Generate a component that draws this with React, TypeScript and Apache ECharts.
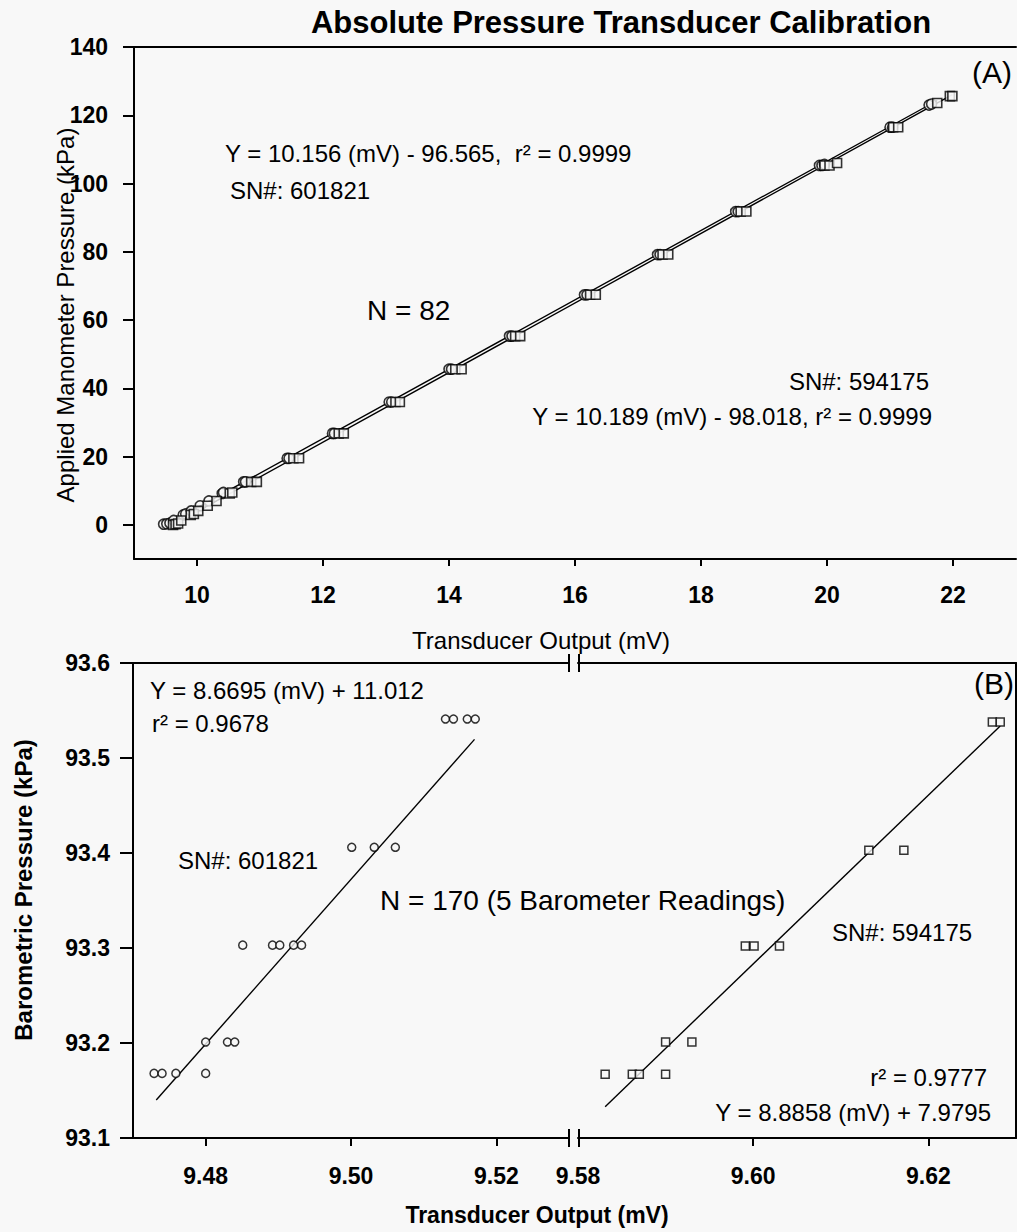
import React, { useEffect, useRef } from "react";
import * as echarts from "echarts";

const FONT = '"Liberation Sans", Arial, Helvetica, sans-serif';
const INK = "#000000";
const PAPER = "#f8f8f8";

// ---- Panel A: applied manometer pressure vs. transducer output ----
const aCircleMv = [9.47, 9.52, 9.57, 9.63, 9.78, 9.82, 9.91, 10.05, 10.19, 10.4, 10.42, 10.74, 10.77, 11.43, 11.46, 12.15, 12.18, 13.05, 13.09, 14.0, 14.04, 14.96, 15.0, 16.15, 16.19, 17.31, 17.35, 18.55, 18.59, 19.88, 19.92, 19.96, 21.0, 21.04, 21.62, 21.66];
const aCircleKpa = [0.2, 0.3, 0.5, 1.3, 2.9, 3.2, 4.1, 5.6, 7.0, 9.2, 9.5, 12.6, 12.6, 19.5, 19.5, 26.8, 26.8, 36.0, 36.0, 45.6, 45.6, 55.3, 55.3, 67.4, 67.4, 79.2, 79.2, 91.8, 91.8, 105.3, 105.3, 105.6, 116.5, 116.5, 123.0, 123.3];
const aSquareMv = [9.62, 9.66, 9.7, 9.75, 9.9, 9.95, 10.02, 10.17, 10.31, 10.52, 10.56, 10.86, 10.95, 11.53, 11.62, 12.25, 12.33, 13.15, 13.22, 14.1, 14.2, 15.05, 15.13, 16.24, 16.33, 17.39, 17.48, 18.63, 18.72, 19.96, 20.04, 20.16, 21.05, 21.13, 21.75, 21.95, 21.99];
const aSquareKpa = [0.0, 0.2, 0.4, 1.3, 2.9, 3.2, 4.1, 5.6, 7.0, 9.2, 9.5, 12.6, 12.6, 19.5, 19.5, 26.8, 26.8, 36.0, 36.0, 45.6, 45.6, 55.3, 55.3, 67.4, 67.4, 79.2, 79.2, 91.8, 91.8, 105.3, 105.3, 106.0, 116.5, 116.5, 123.6, 125.6, 125.6];
const aXTicks = [10, 12, 14, 16, 18, 20, 22];
const aYTicks = [0, 20, 40, 60, 80, 100, 120, 140];

// ---- Panel B: barometric pressure vs. transducer output (broken x axis) ----
const bCircleMv = [9.513, 9.5141, 9.516, 9.5171, 9.5001, 9.5032, 9.5061, 9.4851, 9.4892, 9.4902, 9.4921, 9.4932, 9.48, 9.483, 9.484, 9.4729, 9.474, 9.4759, 9.48];
const bCircleKpa = [93.541, 93.541, 93.541, 93.541, 93.406, 93.406, 93.406, 93.303, 93.303, 93.303, 93.303, 93.303, 93.201, 93.201, 93.201, 93.168, 93.168, 93.168, 93.168];
const bSquareMv = [9.6273, 9.6282, 9.6132, 9.6172, 9.5991, 9.6001, 9.603, 9.59, 9.593, 9.5831, 9.5862, 9.587, 9.59];
const bSquareKpa = [93.538, 93.538, 93.403, 93.403, 93.302, 93.302, 93.302, 93.201, 93.201, 93.167, 93.167, 93.167, 93.167];
const bLeftXTicks = [9.48, 9.5, 9.52];
const bRightXTicks = [9.58, 9.6, 9.62];
const bYTicks = [93.1, 93.2, 93.3, 93.4, 93.5, 93.6];

// Linear fits: [slope, intercept, r², first mV, last mV]
const fitA601821 = [10.156, -96.565, 0.9999, 9.47, 21.75];
const fitA594175 = [10.189, -98.018, 0.9999, 9.62, 21.99];
const fitB601821 = [8.6695, 11.012, 0.9678, 9.4732, 9.517];
const fitB594175 = [8.8858, 7.9795, 0.9777, 9.5831, 9.6282];

const pairs = (xs: number[], ys: number[]) => xs.map((x, i) => [x, ys[i]]);
const fitLine = (f: number[]) => [
  [f[3], f[0] * f[3] + f[1]],
  [f[4], f[0] * f[4] + f[1]],
];
const fitEq = (f: number[]) =>
  `Y = ${f[0]} (mV) ${f[1] < 0 ? "-" : "+"} ${Math.abs(f[1])}`;

const txt = (
  text: string,
  x: number,
  y: number,
  size: number,
  opts: { weight?: string; align?: string; rotate?: boolean } = {}
) => ({
  type: "text",
  x,
  y,
  rotation: opts.rotate ? Math.PI / 2 : 0,
  silent: true,
  style: {
    text,
    fill: INK,
    font: `${opts.weight || "normal"} ${size}px ${FONT}`,
    textAlign: opts.align || "left",
    textVerticalAlign: "middle",
    align: opts.align || "left",
    verticalAlign: "middle",
  },
});

const breakMark = (x: number, y: number) => ({
  type: "line",
  silent: true,
  shape: { x1: x, y1: y - 9, x2: x, y2: y + 9 },
  style: { stroke: INK, lineWidth: 2 },
});

const lineOnly = { show: true, onZero: false, lineStyle: { color: INK, width: 2 } };

export default function App() {
  const ref = useRef<HTMLDivElement>(null);

  useEffect(() => {
    if (!ref.current) return;
    const chart = echarts.init(ref.current, null, { renderer: "svg" });

    const tickLabel = (size: number, weight: string, margin: number, fmt: (v: number) => string, values: number[]) => ({
      show: true,
      customValues: values,
      color: INK,
      fontFamily: FONT,
      fontSize: size,
      fontWeight: weight,
      margin,
      formatter: (v: number) => fmt(v),
    });
    const ticks = (len: number, values: number[]) => ({
      show: true,
      inside: false,
      length: len,
      customValues: values,
      lineStyle: { color: INK, width: 2 },
    });
    const hidden = { show: false };

    const scatterStyle = (symbol: string, size: number, width: number) => ({
      type: "scatter",
      symbol,
      symbolSize: size,
      itemStyle: { color: PAPER, borderColor: INK, borderWidth: width },
      z: symbol === "rect" ? 4 : 3,
    });
    const fitStyle = {
      type: "line",
      showSymbol: false,
      symbol: "none",
      lineStyle: { color: INK, width: 1.4 },
      z: 2,
    };

    chart.setOption({
      animation: false,
      backgroundColor: PAPER,
      grid: [
        { left: 134, top: 47, width: 882, height: 512 },
        { left: 133, top: 663, width: 436, height: 475 },
        { left: 578, top: 663, width: 438, height: 475 },
      ],
      xAxis: [
        {
          type: "value", gridIndex: 0, min: 9, max: 23, position: "bottom",
          axisLine: lineOnly, splitLine: hidden,
          axisTick: ticks(7, aXTicks),
          axisLabel: tickLabel(23, "bold", 24, (v) => String(v), aXTicks),
        },
        {
          type: "value", gridIndex: 0, min: 9, max: 23, position: "top",
          axisLine: lineOnly, splitLine: hidden, axisTick: hidden, axisLabel: hidden,
        },
        {
          type: "value", gridIndex: 1, min: 9.47, max: 9.53, position: "bottom",
          axisLine: lineOnly, splitLine: hidden,
          axisTick: ticks(8, bLeftXTicks),
          axisLabel: tickLabel(23, "bold", 26, (v) => v.toFixed(2), bLeftXTicks),
        },
        {
          type: "value", gridIndex: 1, min: 9.47, max: 9.53, position: "top",
          axisLine: lineOnly, splitLine: hidden, axisTick: hidden, axisLabel: hidden,
        },
        {
          type: "value", gridIndex: 2, min: 9.58, max: 9.63, position: "bottom",
          axisLine: lineOnly, splitLine: hidden,
          axisTick: ticks(8, bRightXTicks.slice(1)),
          axisLabel: tickLabel(23, "bold", 26, (v) => v.toFixed(2), bRightXTicks),
        },
        {
          type: "value", gridIndex: 2, min: 9.58, max: 9.63, position: "top",
          axisLine: lineOnly, splitLine: hidden, axisTick: hidden, axisLabel: hidden,
        },
      ],
      yAxis: [
        {
          type: "value", gridIndex: 0, min: -10, max: 140, position: "left",
          axisLine: lineOnly, splitLine: hidden,
          axisTick: ticks(11, aYTicks),
          axisLabel: tickLabel(23, "bold", 26, (v) => String(v), aYTicks),
        },
        {
          type: "value", gridIndex: 1, min: 93.1, max: 93.6, position: "left",
          axisLine: lineOnly, splitLine: hidden,
          axisTick: ticks(13, bYTicks),
          axisLabel: tickLabel(23, "bold", 23, (v) => v.toFixed(1), bYTicks),
        },
        {
          type: "value", gridIndex: 2, min: 93.1, max: 93.6, position: "right",
          axisLine: lineOnly, splitLine: hidden, axisTick: hidden, axisLabel: hidden,
        },
      ],
      series: [
        { ...fitStyle, name: "fit 601821 (A)", xAxisIndex: 0, yAxisIndex: 0, data: fitLine(fitA601821) },
        { ...fitStyle, name: "fit 594175 (A)", xAxisIndex: 0, yAxisIndex: 0, data: fitLine(fitA594175) },
        { ...scatterStyle("circle", 10, 1.6), name: "SN 601821 (A)", xAxisIndex: 0, yAxisIndex: 0, data: pairs(aCircleMv, aCircleKpa) },
        { ...scatterStyle("rect", 9, 1.6), name: "SN 594175 (A)", xAxisIndex: 0, yAxisIndex: 0, data: pairs(aSquareMv, aSquareKpa) },
        { ...fitStyle, name: "fit 601821 (B)", xAxisIndex: 2, yAxisIndex: 1, data: fitLine(fitB601821) },
        { ...scatterStyle("circle", 8, 1.5), name: "SN 601821 (B)", xAxisIndex: 2, yAxisIndex: 1, data: pairs(bCircleMv, bCircleKpa) },
        { ...fitStyle, name: "fit 594175 (B)", xAxisIndex: 4, yAxisIndex: 2, data: fitLine(fitB594175) },
        { ...scatterStyle("rect", 8, 1.5), name: "SN 594175 (B)", xAxisIndex: 4, yAxisIndex: 2, data: pairs(bSquareMv, bSquareKpa) },
      ],
      graphic: [
        txt("Absolute Pressure Transducer Calibration", 621, 22, 31, { weight: "bold", align: "center" }),
        txt("Applied Manometer Pressure (kPa)", 65, 315, 24, { align: "center", rotate: true }),
        txt("Transducer Output (mV)", 541, 640, 24, { align: "center" }),
        txt(`${fitEq(fitA601821)},  r² = ${fitA601821[2]}`, 225, 153, 24),
        txt("SN#: 601821", 230, 190, 24),
        txt("N = 82", 367, 310, 28),
        txt("SN#: 594175", 929, 381, 24, { align: "right" }),
        txt(`${fitEq(fitA594175)}, r² = ${fitA594175[2]}`, 932, 416, 24, { align: "right" }),
        txt("(A)", 1012, 72, 30, { align: "right" }),

        txt("Barometric Pressure (kPa)", 23, 890, 24, { weight: "bold", align: "center", rotate: true }),
        txt("Transducer Output (mV)", 537, 1215, 23, { weight: "bold", align: "center" }),
        txt(fitEq(fitB601821), 150, 690, 24),
        txt(`r² = ${fitB601821[2]}`, 152, 723, 24),
        txt("SN#: 601821", 178, 860, 24),
        txt("N = 170 (5 Barometer Readings)", 380, 900, 28),
        txt("SN#: 594175", 832, 932, 24),
        txt(`r² = ${fitB594175[2]}`, 987, 1077, 24, { align: "right" }),
        txt(fitEq(fitB594175), 991, 1112, 24, { align: "right" }),
        txt("(B)", 1014, 683, 30, { align: "right" }),

        breakMark(569, 663),
        breakMark(579, 663),
        breakMark(569, 1138),
        breakMark(579, 1138),
      ],
    });

    return () => chart.dispose();
  }, []);

  return (
    <div
      ref={ref}
      style={{ position: "absolute", left: 0, top: 0, width: 1017, height: 1232, background: PAPER }}
    />
  );
}
